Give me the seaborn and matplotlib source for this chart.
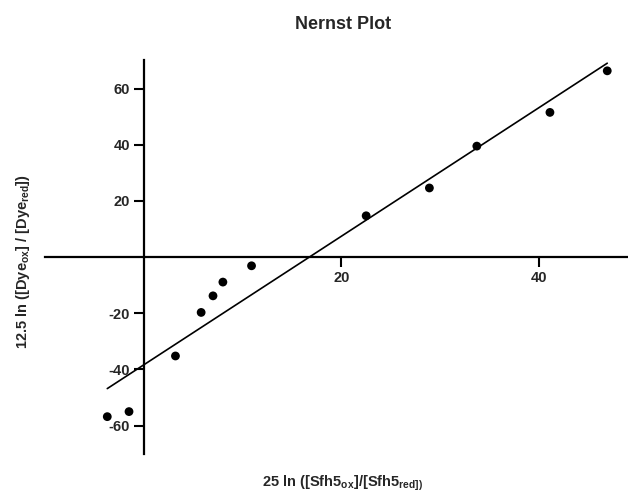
import numpy as np
import pandas as pd
import matplotlib
matplotlib.use('Agg')
import matplotlib.pyplot as plt
import seaborn as sns

sns.set_style('ticks')
plt.rcParams['font.family'] = ['Liberation Sans', 'DejaVu Sans']
plt.rcParams['font.weight'] = 'bold'
plt.rcParams['axes.unicode_minus'] = False
plt.rcParams['mathtext.fontset'] = 'custom'
plt.rcParams['mathtext.rm'] = 'Liberation Sans:bold'
plt.rcParams['mathtext.it'] = 'Liberation Sans:bold'
plt.rcParams['mathtext.bf'] = 'Liberation Sans:bold'

# 값
sfh5 = [-3.7, -1.5, 3.2, 5.8, 7.0, 8.0, 10.9, 22.5, 28.9, 33.7, 41.1, 46.9]
dye = [-56.8, -55.0, -35.2, -19.7, -13.8, -8.9, -3.1, 14.7, 24.6, 39.5, 51.5, 66.3]
xticks = [20, 40]
yticks = [-60, -40, -20, 20, 40, 60]

df = pd.DataFrame({'sfh5': sfh5, 'dye': dye})

fig = plt.figure(figsize=(6.28, 4.93), dpi=100)
ax = fig.add_axes([0.0717, 0.0785, 0.9283, 0.7995])

sns.regplot(data=df, x='sfh5', y='dye', ci=None, ax=ax,
            scatter_kws=dict(s=40, color='black', edgecolor='none', alpha=1),
            line_kws=dict(color='black', lw=1.2))

ax.set_xlim(-10, 49)
ax.set_ylim(-70.2, 70.1)
ax.set_xticks(xticks)
ax.set_yticks(yticks)
ax.set(xlabel='', ylabel='')

# 축을 원점에 배치
ax.spines['left'].set_position(('data', 0))
ax.spines['bottom'].set_position(('data', 0))
ax.spines['top'].set_visible(False)
ax.spines['right'].set_visible(False)
for s in ['left', 'bottom']:
    ax.spines[s].set_linewidth(1.6)
    ax.spines[s].set_color('black')
ax.tick_params(axis='both', length=7, width=1.5, color='black', labelsize=10.5, pad=3)
for lab in ax.get_xticklabels() + ax.get_yticklabels():
    lab.set_fontweight('bold')

fig.text(0.546, 0.951, 'Nernst Plot', ha='center', va='center', fontsize=13, fontweight='bold')
fig.text(0.545, 0.020, r'25 ln ([Sfh5$_{\mathrm{ox}}$]/[Sfh5$_{\mathrm{red])}}$',
         ha='center', va='center', fontsize=10.5, fontweight='bold')
fig.text(0.037, 0.469, r'12.5 ln ([Dye$_{\mathrm{ox}}$] / [Dye$_{\mathrm{red}}$])',
         ha='center', va='center', rotation=90, fontsize=10.5, fontweight='bold')

fig.savefig('out.png', dpi=100)
